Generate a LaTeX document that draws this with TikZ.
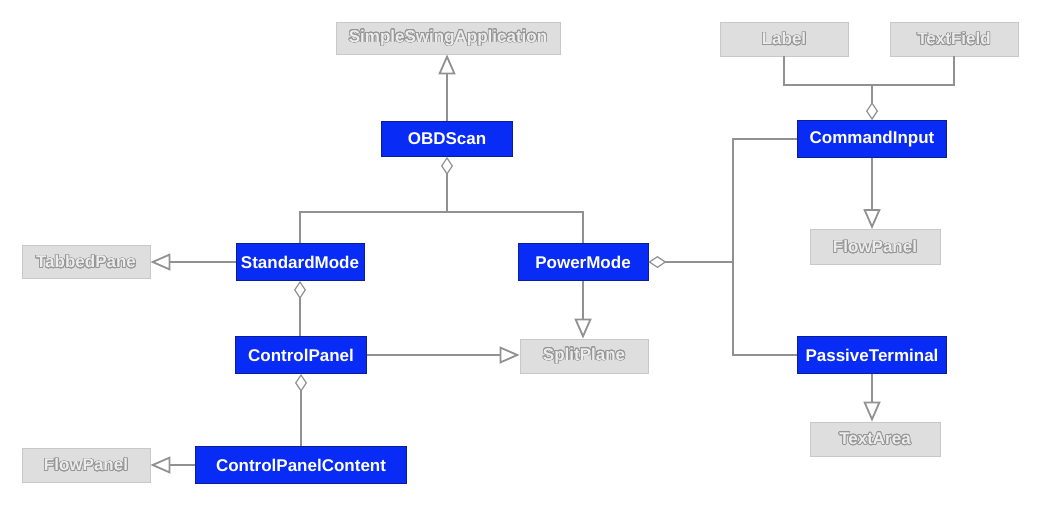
\documentclass[tikz,border=0pt]{standalone}
\usepackage{fontspec}
\setmainfont{Liberation Sans}
\usepackage{contour}
\usetikzlibrary{arrows.meta}
\definecolor{cblue}{RGB}{8,44,245}
\definecolor{cblueb}{RGB}{10,30,150}
\definecolor{cgray}{RGB}{222,222,222}
\definecolor{cgrayb}{RGB}{200,200,200}
\definecolor{cline}{RGB}{145,145,145}
\definecolor{ctext}{RGB}{150,150,150}
\definecolor{cinner}{RGB}{236,236,236}
\contourlength{0.7pt}
\contournumber{24}
\newcommand{\gtext}[1]{\contour{ctext}{\textcolor{cinner}{#1}}}
\begin{document}
\begin{tikzpicture}[x=1pt,y=-1pt,
  cls/.style={draw=cblueb,fill=cblue,text=white,line width=0.8pt,inner sep=0pt,
    font=\fontsize{17}{19}\selectfont\bfseries},
  ext/.style={draw=cgrayb,fill=cgray,line width=0.8pt,inner sep=0pt,
    font=\fontsize{17}{19}\selectfont\bfseries},
  conn/.style={draw=cline,line width=1.8pt},
  inh/.style={conn,-{Triangle[open,length=20pt,width=17pt,fill=white]}},
  agg/.style={conn,{Diamond[open,length=18pt,width=12pt,fill=white,line width=1.2pt]}-}
]
\useasboundingbox (0,0) rectangle (1040,504);
% gray (external) classes
\node[ext,minimum width=224pt,minimum height=32pt] (ssa) at (448,38) {\gtext{SimpleSwingApplication}};
\node[ext,minimum width=128pt,minimum height=34pt] (lab) at (784,39) {\gtext{Label}};
\node[ext,minimum width=128pt,minimum height=34pt] (tf) at (954,39) {\gtext{TextField}};
\node[ext,minimum width=130pt,minimum height=35pt] (fpr) at (875,247) {\gtext{FlowPanel}};
\node[ext,minimum width=128pt,minimum height=33pt] (tab) at (86,262) {\gtext{TabbedPane}};
\node[ext,minimum width=128pt,minimum height=34pt] (sp) at (584,356) {\gtext{SplitPlane}};
\node[ext,minimum width=130pt,minimum height=34pt] (ta) at (875,439) {\gtext{TextArea}};
\node[ext,minimum width=128pt,minimum height=34pt] (fpl) at (86,465) {\gtext{FlowPanel}};
% blue classes
\node[cls,minimum width=131pt,minimum height=35pt] (obd) at (447,139) {OBDScan};
\node[cls,minimum width=149pt,minimum height=37pt] (cmd) at (872,139) {CommandInput};
\node[cls,minimum width=128pt,minimum height=37pt] (std) at (300,262) {StandardMode};
\node[cls,minimum width=130pt,minimum height=37pt] (pow) at (583,262) {PowerMode};
\node[cls,minimum width=131pt,minimum height=37pt] (cp) at (301,355) {ControlPanel};
\node[cls,minimum width=149pt,minimum height=37pt] (pt) at (872,355) {PassiveTerminal};
\node[cls,minimum width=211pt,minimum height=37pt] (cpc) at (301,465) {ControlPanelContent};
% junctions
\coordinate (j1) at (447,212);
\coordinate (j2) at (872,85);
\coordinate (j3) at (733,262);
% connectors
\draw[inh] (obd.north) -- (obd.north |- ssa.south);
\draw[agg] (obd.south) -- (j1);
\draw[conn] (std.north) |- (j1) -| (pow.north);
\draw[conn] (lab.south) |- (j2) -| (tf.south);
\draw[agg] (cmd.north) -- (j2);
\draw[inh] (cmd.south) -- (cmd.south |- fpr.north);
\draw[agg] (pow.east) -- (j3);
\draw[conn] (cmd.west) -| (j3) |- (pt.west);
\draw[inh] (pt.south) -- (pt.south |- ta.north);
\draw[inh] (pow.south) -- (pow.south |- sp.north);
\draw[inh] (std.west) -- (std.west -| tab.east);
\draw[agg] (std.south) -- (std.south |- cp.north);
\draw[inh] (cp.east) -- (cp.east -| sp.west);
\draw[agg] (cp.south) -- (cp.south |- cpc.north);
\draw[inh] (cpc.west) -- (cpc.west -| fpl.east);
\end{tikzpicture}
\end{document}
